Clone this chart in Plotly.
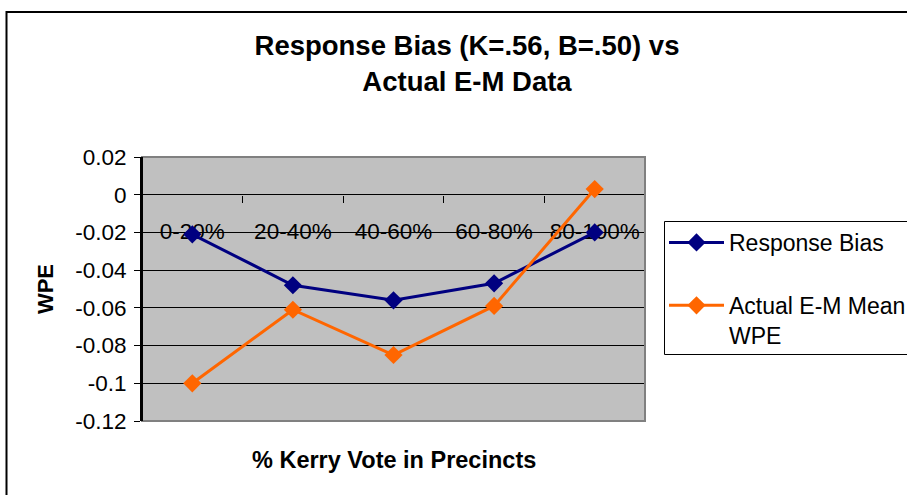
import plotly.graph_objects as go

categories = ["0-20%", "20-40%", "40-60%", "60-80%", "80-100%"]
response_bias = [-0.021, -0.048, -0.056, -0.047, -0.020]
actual_em = [-0.100, -0.061, -0.085, -0.059, 0.003]
y_tickvals = [0.02, 0, -0.02, -0.04, -0.06, -0.08, -0.10, -0.12]
y_ticktext = ["0.02", "0", "-0.02", "-0.04", "-0.06", "-0.08", "-0.1", "-0.12"]

FONT = "Arial, Liberation Sans, Helvetica, sans-serif"
NAVY = "#000080"
ORANGE = "#FF6600"

W, H = 907, 495
L, R, T, B = 142, 645, 157, 421
pw, ph = R - L, B - T


def px_x(vx):
    return (vx - L) / pw


def px_y(vy):
    return (B - vy) / ph


fig = go.Figure()
fig.add_trace(go.Scatter(
    x=categories, y=response_bias, name="Response Bias", mode="lines+markers",
    line=dict(color=NAVY, width=3), marker=dict(symbol="diamond", size=14, color=NAVY),
    legendgroup="a"))
fig.add_trace(go.Scatter(
    x=categories, y=actual_em, name="Actual E-M Mean<br>WPE", mode="lines+markers",
    line=dict(color=ORANGE, width=3), marker=dict(symbol="diamond", size=14, color=ORANGE),
    legendgroup="b"))

zero_pos = (0 - (-0.12)) / 0.14

fig.update_layout(
    width=W, height=H,
    margin=dict(l=L, r=W - R, t=T, b=H - B, autoexpand=False),
    paper_bgcolor="white", plot_bgcolor="#C0C0C0",
    font=dict(family=FONT, size=22.5, color="black"),
    title=dict(text="<b>Response Bias (K=.56, B=.50) vs<br>Actual E-M Data</b>",
               x=467 / W, xanchor="center", y=1 - 55 / H, yanchor="top",
               yref="container", font=dict(size=27.5, color="black")),
    showlegend=True,
    legend=dict(x=px_x(664), y=px_y(221), xanchor="left", yanchor="top",
                borderwidth=0, bgcolor="rgba(0,0,0,0)",
                font=dict(size=23), traceorder="grouped", tracegroupgap=30,
                valign="top", itemwidth=55),
    xaxis=dict(type="category", range=[-0.5, 4.5], anchor="free", position=zero_pos,
               showgrid=False, showline=False, zeroline=False,
               ticks="outside", tickson="boundaries", ticklen=7, tickcolor="black",
               tickwidth=1, ticklabelstandoff=21, layer="below traces",
               tickfont=dict(size=22.5), fixedrange=True),
    yaxis=dict(range=[-0.12, 0.02], tickvals=y_tickvals, ticktext=y_ticktext,
               showgrid=True, gridcolor="black", gridwidth=1, zeroline=False,
               showline=True, linecolor="black", linewidth=2,
               ticks="outside", ticklen=6, tickcolor="black", tickwidth=1,
               ticklabelstandoff=3, tickfont=dict(size=22.5),
               title=dict(text="<b>WPE</b>", font=dict(size=22), standoff=16)),
)

# plot-area border (grey) and outer chart frame (black)
fig.add_shape(type="rect", xref="paper", yref="paper", x0=0, x1=1, y0=0, y1=1,
              line=dict(color="#808080", width=2), layer="above")
fig.add_shape(type="rect", xref="paper", yref="paper",
              x0=px_x(6.5), x1=1.8, y0=-0.6, y1=px_y(12),
              line=dict(color="black", width=2), layer="above")
# y axis line over grey border
fig.add_shape(type="line", xref="paper", yref="paper", x0=0, x1=0, y0=0, y1=1,
              line=dict(color="black", width=2), layer="above")
# legend frame (extends past the right edge of the picture)
fig.add_shape(type="rect", xref="paper", yref="paper",
              x0=px_x(664.5), x1=px_x(940), y0=px_y(354.5), y1=px_y(221.5),
              line=dict(color="black", width=1), fillcolor="white", layer="below")

fig.add_annotation(text="<b>% Kerry Vote in Precincts</b>", xref="paper", yref="paper",
                   x=0.5, y=px_y(460), xanchor="center", yanchor="middle",
                   showarrow=False, font=dict(size=23.5, color="black"))

fig.write_html("out.html", config={"displayModeBar": False},
               post_script="document.body.style.margin='0px';")
